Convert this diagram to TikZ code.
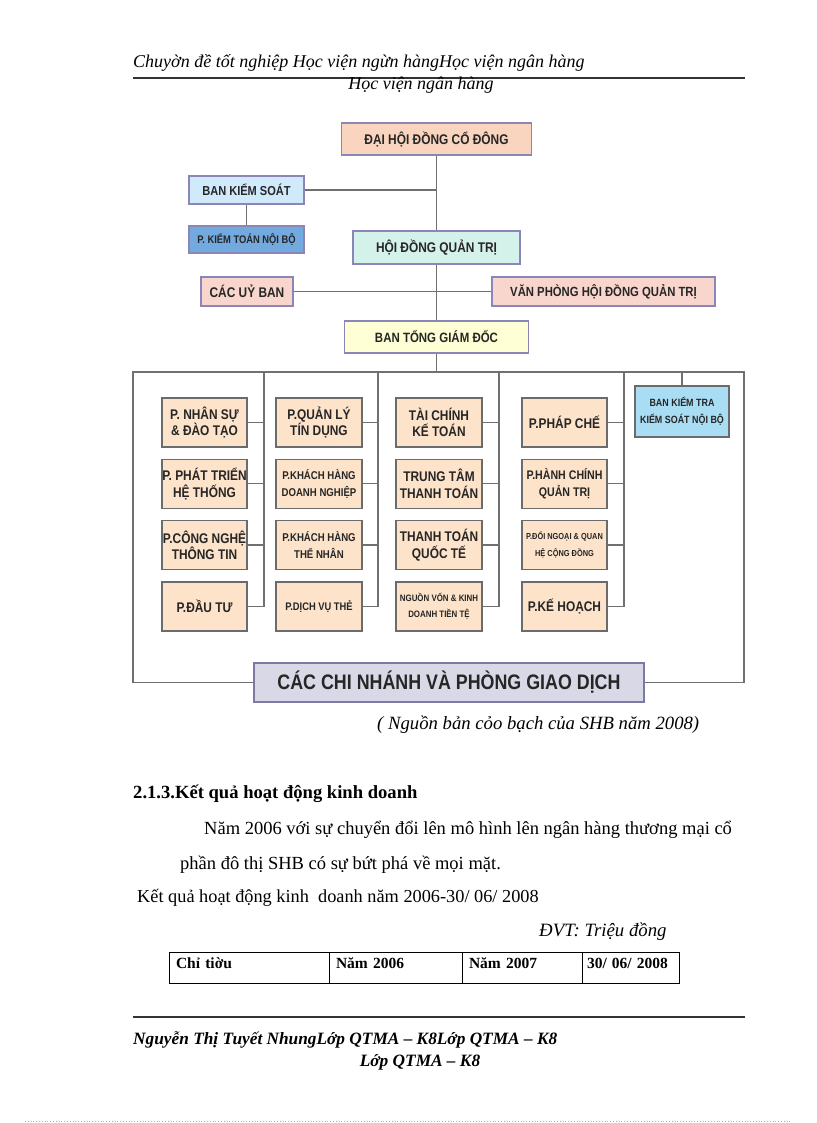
\documentclass[tikz,border=0pt]{standalone}
\usepackage{fontspec}
\setmainfont{Liberation Serif}
\newfontfamily\orgfont[FakeStretch=0.85]{Liberation Sans}
\usetikzlibrary{positioning}

\definecolor{boxline}{HTML}{8A86B8}
\definecolor{deptline}{HTML}{6B6B6B}
\definecolor{linegray}{HTML}{707070}
\definecolor{peach}{HTML}{F9D4BF}
\definecolor{pinkish}{HTML}{F9D6CD}
\definecolor{lightblue}{HTML}{D0E9FB}
\definecolor{midblue}{HTML}{72A9DE}
\definecolor{mint}{HTML}{D4F1EA}
\definecolor{paleyellow}{HTML}{FFFFD6}
\definecolor{deptfill}{HTML}{FCE3CA}
\definecolor{skyblue}{HTML}{A9DDF4}
\definecolor{lavender}{HTML}{D8D8E6}

\begin{document}
\begin{tikzpicture}[x=1pt, y=-1pt,
        unit/.style={rectangle, draw=boxline, line width=1.3pt, inner sep=0pt, align=center,
            font=\orgfont\bfseries\fontsize{14}{16}\selectfont, text=black!85},
        dept/.style={rectangle, draw=deptline, line width=1.3pt, fill=deptfill, inner sep=0pt,
            minimum width=86pt, minimum height=49pt, align=center,
            font=\orgfont\bfseries\fontsize{14}{16.5}\selectfont, text=black!85},
        paths/.style={draw=linegray, line width=1.3pt},
        rule/.style={draw=black!80, line width=1.3pt},
        body/.style={anchor=west, inner sep=0pt, font=\fontsize{18.5}{21}\selectfont},
        cell/.style={rectangle, draw, line width=0.9pt, outer sep=0pt, inner xsep=7pt, inner ysep=0pt,
            text height=16pt, text depth=15pt, align=left, font=\bfseries\fontsize{15.5}{18}\selectfont}
    ]
        \useasboundingbox (0,0) rectangle (816,1123);

        % Header
        \node[body, font=\itshape\fontsize{18}{20}\selectfont] (head1) at (133,63) {Chuyờn đề tốt nghiệp Học viện ngừn hàngHọc viện ngân hàng};
        \draw[rule] (133,78) -- (745,78);
        \node[inner sep=0pt, font=\itshape\fontsize{18}{20}\selectfont] (head2) at (421,85) {Học viện ngân hàng};

        % Nodes: board level
        \node[unit, fill=peach, minimum width=190pt, minimum height=32pt] (dhcd) at (436.5,139) {ĐẠI HỘI ĐỒNG CỔ ĐÔNG};
        \node[unit, fill=lightblue, minimum width=115pt, minimum height=28pt, font=\orgfont\bfseries\fontsize{13}{15}\selectfont] (bks) at (246.5,190) {BAN KIỂM SOÁT};
        \node[unit, fill=midblue, minimum width=115pt, minimum height=27pt, font=\orgfont\bfseries\fontsize{11}{13}\selectfont] (pktnb) at (246.5,239.5) {P. KIỂM TOÁN NỘI BỘ};
        \node[unit, fill=mint, minimum width=167pt, minimum height=33pt] (hdqt) at (436.5,247.5) {HỘI ĐỒNG QUẢN TRỊ};
        \node[unit, fill=pinkish, minimum width=92pt, minimum height=29pt] (cub) at (247,291.5) {CÁC UỶ BAN};
        \node[unit, fill=pinkish, minimum width=223pt, minimum height=29pt, font=\orgfont\bfseries\fontsize{13.3}{15}\selectfont] (vphdqt) at (603.5,291.5) {VĂN PHÒNG HỘI ĐỒNG QUẢN TRỊ};
        \node[unit, fill=paleyellow, minimum width=184pt, minimum height=32pt, font=\orgfont\bfseries\fontsize{13.5}{15}\selectfont] (btgd) at (436.5,337) {BAN TỔNG GIÁM ĐỐC};

        % Nodes: departments
        \node[dept, minimum width=85pt] (n11) at (204.5,422.5) {P. NHÂN SỰ\\\& ĐÀO TẠO};
        \node[dept, minimum width=85pt, below=11pt of n11] (n12) {P. PHÁT TRIỂN\\HỆ THỐNG};
        \node[dept, minimum width=85pt, below=11pt of n12] (n13) {P.CÔNG NGHỆ\\THÔNG TIN};
        \node[dept, minimum width=85pt, below=11pt of n13] (n14) {P.ĐẦU TƯ};

        \node[dept] (n21) at (319,422.5) {P.QUẢN LÝ\\TÍN DỤNG};
        \node[dept, below=11pt of n21, font=\orgfont\bfseries\fontsize{11.3}{16.5}\selectfont] (n22) {P.KHÁCH HÀNG\\DOANH NGHIỆP};
        \node[dept, below=11pt of n22, font=\orgfont\bfseries\fontsize{11.3}{16.5}\selectfont] (n23) {P.KHÁCH HÀNG\\THỂ NHÂN};
        \node[dept, below=11pt of n23, font=\orgfont\bfseries\fontsize{11}{16.5}\selectfont] (n24) {P.DỊCH VỤ THẺ};

        \node[dept] (n31) at (439,422.5) {TÀI CHÍNH\\KẾ TOÁN};
        \node[dept, below=11pt of n31] (n32) {TRUNG TÂM\\THANH TOÁN};
        \node[dept, below=11pt of n32] (n33) {THANH TOÁN\\QUỐC TẾ};
        \node[dept, below=11pt of n33, font=\orgfont\bfseries\fontsize{9.3}{16.5}\selectfont] (n34) {NGUỒN VỐN \& KINH\\DOANH TIỀN TỆ};

        \node[dept, minimum width=85pt] (n41) at (564.5,422.5) {P.PHÁP CHẾ};
        \node[dept, minimum width=85pt, below=11pt of n41, font=\orgfont\bfseries\fontsize{12.5}{16.5}\selectfont] (n42) {P.HÀNH CHÍNH\\QUẢN TRỊ};
        \node[dept, minimum width=85pt, below=11pt of n42, font=\orgfont\bfseries\fontsize{8.7}{16.5}\selectfont] (n43) {P.ĐỐI NGOẠI \& QUAN\\HỆ CỘNG ĐỒNG};
        \node[dept, minimum width=85pt, below=11pt of n43] (n44) {P.KẾ HOẠCH};

        \node[dept, fill=skyblue, minimum width=94pt, minimum height=51pt, font=\orgfont\bfseries\fontsize{10.5}{17}\selectfont] (bkt) at (682,411.5) {BAN KIỂM TRA\\KIỂM SOÁT NỘI BỘ};

        \node[unit, draw=boxline!90!black, fill=lavender, line width=1.5pt, minimum width=390pt, minimum height=39pt, font=\orgfont\bfseries\fontsize{21}{23}\selectfont] (cn) at (449,682.5) {CÁC CHI NHÁNH VÀ PHÒNG GIAO DỊCH};

        \coordinate (fl) at (133,372);
        \coordinate (fr) at (744,372);
        \coordinate (b1) at (264,372);
        \coordinate (b2) at (378,372);
        \coordinate (b3) at (499,372);
        \coordinate (b4) at (624,372);

        % Paths: board level
        \draw[paths] (dhcd) -- (hdqt);
        \draw[paths] (hdqt) -- (btgd);
        \draw[paths] (bks.east) -- (bks.east -| dhcd.south);
        \draw[paths] (bks) -- (pktnb);
        \draw[paths] (cub) -- (vphdqt);
        \draw[paths] (btgd.south) -- (btgd.south |- fl);

        % Paths: frame and buses
        \draw[paths] (cn.west) -| (fl) -- (fr) |- (cn.east);
        \draw[paths] (bkt.north) -- (bkt.north |- fr);
        \draw[paths] (b1) |- (n14.east);
        \draw[paths] (n11.east) -- (n11.east -| b1);
        \draw[paths] (n12.east) -- (n12.east -| b1);
        \draw[paths] (n13.east) -- (n13.east -| b1);
        \draw[paths] (b2) |- (n24.east);
        \draw[paths] (n21.east) -- (n21.east -| b2);
        \draw[paths] (n22.east) -- (n22.east -| b2);
        \draw[paths] (n23.east) -- (n23.east -| b2);
        \draw[paths] (b3) |- (n34.east);
        \draw[paths] (n31.east) -- (n31.east -| b3);
        \draw[paths] (n32.east) -- (n32.east -| b3);
        \draw[paths] (n33.east) -- (n33.east -| b3);
        \draw[paths] (b4) |- (n44.east);
        \draw[paths] (n41.east) -- (n41.east -| b4);
        \draw[paths] (n42.east) -- (n42.east -| b4);
        \draw[paths] (n43.east) -- (n43.east -| b4);

        % Source line
        \node[body, font=\itshape\fontsize{18.7}{21}\selectfont] (src) at (377,725) {( Nguồn bản cỏo bạch của SHB năm 2008)};

        % Text
        \node[body, font=\bfseries\fontsize{18.6}{21}\selectfont] (sec) at (133,794) {2.1.3.Kết quả hoạt động kinh doanh};
        \node[body] (par1) at (204,830) {Năm 2006 với sự chuyển đổi lên mô hình lên ngân hàng thương mại cổ};
        \node[body] (par2) at (180,865) {phần đô thị SHB có sự bứt phá về mọi mặt.};
        \node[body, font=\fontsize{18.3}{21}\selectfont] (par3) at (137,898) {Kết quả hoạt động kinh\ \ doanh năm 2006-30/ 06/ 2008};
        \node[body, font=\itshape\fontsize{18.8}{21}\selectfont] (unitnote) at (539,932) {ĐVT: Triệu đồng};

        % Table
        \node[cell, text width=146pt, anchor=west] (c1) at (169,967.5) {Chỉ tiờu};
        \node[cell, text width=119pt, right=0pt of c1] (c2) {Năm 2006};
        \node[cell, text width=106pt, right=0pt of c2] (c3) {Năm 2007};
        \node[cell, text width=87pt, inner xsep=5pt, right=0pt of c3] (c4) {30/ 06/ 2008};

        % Footer
        \draw[rule] (133,1017) -- (745,1017);
        \node[body, font=\bfseries\itshape\fontsize{17.3}{20}\selectfont] (foot1) at (133,1040) {Nguyễn Thị Tuyết NhungLớp QTMA – K8Lớp QTMA – K8};
        \node[inner sep=0pt, font=\bfseries\itshape\fontsize{17.3}{20}\selectfont] (foot2) at (420,1062) {Lớp QTMA – K8};
        \draw[black!30, dotted, line width=0.8pt] (25,1121) -- (790,1121);

    \end{tikzpicture}
\end{document}
